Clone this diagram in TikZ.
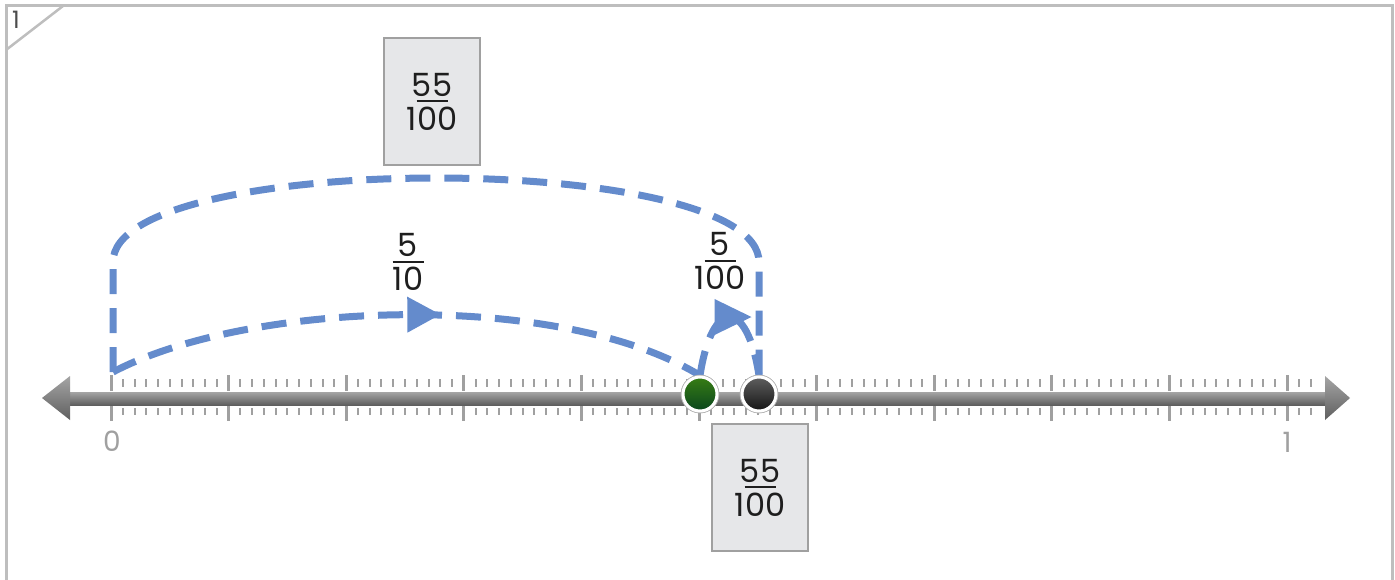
\documentclass[tikz,border=0pt]{standalone}
\usepackage{fontspec}
\setmainfont{Poppins}
\usetikzlibrary{decorations.markings}
\definecolor{jump}{RGB}{100,139,204}
\definecolor{framec}{RGB}{190,190,190}
\definecolor{tickc}{RGB}{160,160,160}
\definecolor{bartop}{RGB}{165,165,165}
\definecolor{barbot}{RGB}{95,95,95}
\definecolor{boxfill}{RGB}{230,231,233}
\definecolor{boxdraw}{RGB}{160,160,160}
\definecolor{gtop}{RGB}{55,125,20}
\definecolor{gbot}{RGB}{10,70,30}
\definecolor{ktop}{RGB}{95,95,95}
\definecolor{kbot}{RGB}{20,20,20}
\definecolor{txt}{RGB}{30,30,30}
\newcommand\myfr[2]{\vbox{\offinterlineskip\halign{\hfil##\hfil\cr#1\cr\noalign{\kern4pt}\rule{31pt}{2pt}\cr\noalign{\kern4.5pt}#2\cr}}}
\tikzset{
  framel/.style={draw=framec, line width=3pt},
  minortick/.style={draw=tickc, line width=2pt},
  majortick/.style={draw=tickc, line width=3pt},
  jumpline/.style={draw=jump, line width=7pt, dash pattern=on 25pt off 14pt},
  headA/.style={postaction={decorate, decoration={markings, mark=at position 0.5 with {\fill[jump] (0,-18) -- (33,0) -- (0,18) -- cycle;}}}},
  headB/.style={postaction={decorate, decoration={markings, mark=at position 0.5 with {\fill[jump] (-15,-18) -- (22,0) -- (-15,18) -- cycle;}}}},
  fracbox/.style={rectangle, fill=boxfill, draw=boxdraw, line width=2pt, minimum width=96pt, minimum height=127pt, inner sep=0pt, text=txt, font=\fontsize{32}{38}\selectfont},
  fraclabel/.style={inner sep=0pt, text=txt, font=\fontsize{32}{38}\selectfont},
  axislabel/.style={inner sep=0pt, text=tickc, font=\fontsize{28}{32}\selectfont},
  dotg/.style={circle, inner sep=0pt, minimum size=34pt, top color=gtop, bottom color=gbot, draw=white, line width=3pt, preaction={draw=gray!60, line width=4.5pt}},
  dotk/.style={circle, inner sep=0pt, minimum size=34pt, top color=ktop, bottom color=kbot, draw=white, line width=3pt, preaction={draw=gray!60, line width=4.5pt}},
}
\begin{document}
\begin{tikzpicture}[x=1pt, y=-1pt]
\useasboundingbox (0,0) rectangle (1395,580);
% frame
\draw[framel] (6,581) -- (6,6) -- (1392,6) -- (1392,581);
\draw[draw=framec, line width=2.5pt] (63,6) -- (6,50);
\node[inner sep=0pt, text=black!70, font=\fontsize{24}{28}\selectfont] (corner) at (16,20) {1};
% ticks
\foreach \i in {0,...,102}{
  \draw[minortick] ({111+\i*11.76},379) -- ({111+\i*11.76},387);
  \draw[minortick] ({111+\i*11.76},408) -- ({111+\i*11.76},415);
}
\foreach \i in {0,10,...,100}{
  \draw[majortick] ({111+\i*11.76},375) -- ({111+\i*11.76},391);
  \draw[majortick] ({111+\i*11.76},405) -- ({111+\i*11.76},421);
}
% bar and heads
\shade[top color=bartop, bottom color=barbot] (69,392) rectangle (1326,405);
\shade[top color=bartop, bottom color=barbot] (70,376) -- (42,398) -- (70,420) -- cycle;
\shade[top color=bartop, bottom color=barbot] (1325,376) -- (1350,398) -- (1325,420) -- cycle;
% axis labels
\node[axislabel] (l0) at (112,441) {0};
\node[axislabel] (l1) at (1287,442) {1};
% points
\node[dotg] (g) at (700,394) {};
\node[dotk] (k) at (759,394) {};
\coordinate (z0) at (113,372);
% jumps
\draw[jumpline] (z0) -- (113,262) .. controls (113,150) and (759,150) .. (759,262) -- (k.north);
\draw[jumpline, headA] (z0) .. controls (250,300) and (560,290) .. (g.north);
\draw[jumpline, headB] (g.north) .. controls +(12,-78) and +(-12,-78) .. (k.north);
% redraw dots on top
\node[dotg] at (g) {};
\node[dotk] at (k) {};
% labels
\node[fraclabel] (f1) at (408,262) {\myfr{5}{10}};
\node[fraclabel] (f2) at (720,261) {\myfr{5}{100}};
\node[fracbox] (b1) at (432,101.5) {\myfr{55}{100}};
\node[fracbox] (b2) at (760,487.5) {\myfr{55}{100}};
\end{tikzpicture}
\end{document}
